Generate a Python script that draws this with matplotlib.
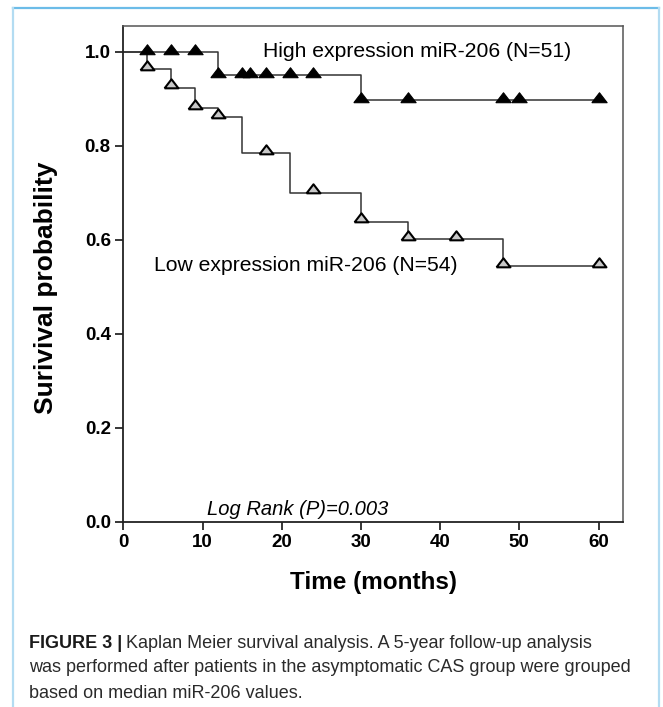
"""Kaplan-Meier survival curves for high vs low miR-206 expression."""
import numpy as np
import matplotlib
matplotlib.use("Agg")
import matplotlib.pyplot as plt
from matplotlib.lines import Line2D

plt.rcParams["font.family"] = ["Liberation Sans", "DejaVu Sans"]

# Step functions (time in months, survival probability)
high_times = [0, 12, 30, 60]
high_surv = [1.0, 0.951, 0.897, 0.897]
high_censor = [3, 6, 9, 12, 15, 16, 18, 21, 24, 30, 36, 48, 50, 60]

low_times = [0, 3, 6, 9, 12, 15, 21, 30, 36, 48, 60]
low_surv = [1.0, 0.963, 0.923, 0.880, 0.860, 0.784, 0.700, 0.638, 0.601, 0.544, 0.544]
low_censor = [3, 6, 9, 12, 18, 24, 30, 36, 42, 48, 60]

x_ticks = [0, 10, 20, 30, 40, 50, 60]
y_ticks = [0.0, 0.2, 0.4, 0.6, 0.8, 1.0]

W, H = 663, 707


def surv_at(times, surv, t):
    i = np.searchsorted(times, t, side="right") - 1
    return surv[i]


fig = plt.figure(figsize=(W / 100, H / 100), dpi=100)
ax = fig.add_axes([123.3 / W, 1 - 521.7 / H, (622.7 - 123.3) / W, (521.7 - 25.7) / H])

line_col = "#333333"
ax.step(high_times, high_surv, where="post", color=line_col, lw=1.1, zorder=2)
ax.step(low_times, low_surv, where="post", color=line_col, lw=1.1, zorder=2)

tri = [(-1.0, -0.55), (1.0, -0.55), (0.0, 0.75), (-1.0, -0.55)]
hy = [surv_at(high_times, high_surv, t) for t in high_censor]
ax.plot(high_censor, np.array(hy) + 0.004, ls="none", marker=tri, ms=11,
        mfc="black", mec="black", mew=0.8, zorder=3)
ly = [surv_at(low_times, low_surv, t) for t in low_censor]
ax.plot(low_censor, np.array(ly) + 0.007, ls="none", marker=tri, ms=10,
        mfc="#c8c8c8", mec="black", mew=1.5, zorder=3)

ax.set_xlim(0, 63.05)
ax.set_ylim(0, 1.055)
ax.set_xticks(x_ticks)
ax.set_yticks(y_ticks)
ax.set_xticklabels([str(v) for v in x_ticks], fontsize=13.5, fontweight="bold")
ax.set_yticklabels([f"{v:.1f}" for v in y_ticks], fontsize=13.5, fontweight="bold")
ax.tick_params(direction="out", length=6, width=1.1, pad=3, colors="black")
for side in ["left", "bottom"]:
    ax.spines[side].set_linewidth(1.3)
    ax.spines[side].set_color("#222222")
for side in ["top", "right"]:
    ax.spines[side].set_linewidth(1.1)
    ax.spines[side].set_color("#555555")

ax.text(17.6, 1.0, "High expression miR-206 (N=51)", fontsize=15.2,
        ha="left", va="center")
ax.text(3.9, 0.545, "Low expression miR-206 (N=54)", fontsize=15.2,
        ha="left", va="center")
ax.text(10.6, 0.005, "Log Rank (P)=0.003", fontsize=14.5, style="italic",
        ha="left", va="bottom")

fig.text(374 / W, 1 - 583 / H, "Time (months)", fontsize=17.5, fontweight="bold",
         ha="center", va="center")
fig.text(46 / W, 1 - 288 / H, "Surivival probability", fontsize=19,
         fontweight="bold", rotation=90, ha="center", va="center")

# caption
cap_x = 29 / W
cap_size = 13
bold = fig.text(cap_x, 1 - 643 / H, "FIGURE 3 |", fontsize=cap_size,
                fontweight="bold", color="#1a1a1a", va="center", ha="left")
fig.canvas.draw()
bb = bold.get_window_extent(renderer=fig.canvas.get_renderer())
fig.text(bb.x1 / W + 4 / W, 1 - 643 / H,
         "Kaplan Meier survival analysis. A 5-year follow-up analysis",
         fontsize=cap_size, color="#2a2a2a", va="center", ha="left")
fig.text(cap_x, 1 - 668 / H,
         "was performed after patients in the asymptomatic CAS group were grouped",
         fontsize=cap_size, color="#2a2a2a", va="center", ha="left")
fig.text(cap_x, 1 - 693 / H, "based on median miR-206 values.",
         fontsize=cap_size, color="#2a2a2a", va="center", ha="left")

# light blue frame
fig.add_artist(Line2D([13 / W, 659 / W], [1 - 8 / H, 1 - 8 / H],
                      color="#6cbce8", lw=1.6))
fig.add_artist(Line2D([13 / W, 13 / W], [0, 1 - 8 / H], color="#b3dcf2", lw=1.6))
fig.add_artist(Line2D([659 / W, 659 / W], [0, 1 - 8 / H], color="#b3dcf2", lw=1.6))

fig.savefig("out.png", dpi=100)
